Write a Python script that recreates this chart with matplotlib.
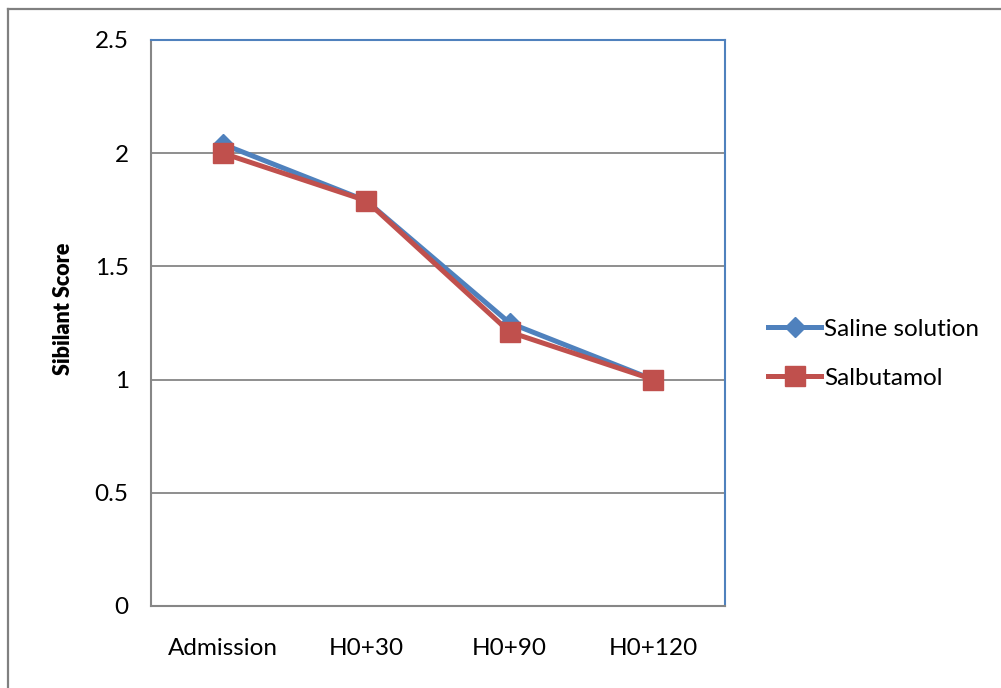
import matplotlib.pyplot as plt
from matplotlib.lines import Line2D

plt.rcParams['font.family'] = ['Lato', 'DejaVu Sans']

categories = ['Admission', 'H0+30', 'H0+90', 'H0+120']
saline = [2.04, 1.79, 1.25, 1.0]
salbutamol = [2.0, 1.79, 1.21, 1.0]
yticks = [0, 0.5, 1, 1.5, 2, 2.5]

blue = '#4F81BD'
red = '#C0504D'
grey = '#868686'

fig = plt.figure(figsize=(10.01, 6.88), dpi=100)
ax = fig.add_axes([0.1508, 0.1192, 0.5734, 0.8227])

x = [i + 0.5 for i in range(len(categories))]
ax.plot(x, saline, color=blue, lw=3.6, marker='D', ms=10.5, label='Saline solution',
        solid_joinstyle='round')
ax.plot(x, salbutamol, color=red, lw=3.6, marker='s', ms=14, label='Salbutamol',
        solid_joinstyle='round')

ax.set_xlim(0, 4)
ax.set_ylim(0, 2.5)
ax.set_xticks(x)
ax.set_xticklabels(categories, fontsize=17.5)
ax.set_yticks(yticks)
ax.set_yticklabels(['0', '0.5', '1', '1.5', '2', '2.5'], fontsize=17.5)
ax.tick_params(length=0)
ax.tick_params(axis='x', pad=23)
ax.tick_params(axis='y', pad=16)
ax.yaxis.grid(True, color=grey, lw=1.3)
ax.set_axisbelow(True)
for s in ['left', 'bottom']:
    ax.spines[s].set_color(grey)
    ax.spines[s].set_linewidth(1.5)
for s in ['top', 'right']:
    ax.spines[s].set_color(blue)
    ax.spines[s].set_linewidth(1.5)

ax.set_ylabel('Sibilant Score', fontsize=15.5, fontweight='heavy')
ax.yaxis.set_label_coords(-0.134, 0.525)

ax.legend(loc='center left', bbox_to_anchor=(0.755, 0.486), bbox_transform=fig.transFigure,
          frameon=False, fontsize=17.5, handlelength=2.2, handletextpad=0.1,
          labelspacing=1.15, borderpad=0)

# outer frame
fig.add_artist(Line2D([8 / 1001, 1], [1 - 9 / 688, 1 - 9 / 688], color='#808080', lw=1.6,
                      transform=fig.transFigure))
fig.add_artist(Line2D([8 / 1001, 8 / 1001], [0, 1 - 9 / 688], color='#808080', lw=1.6,
                      transform=fig.transFigure))

fig.savefig('out.png', dpi=100)
